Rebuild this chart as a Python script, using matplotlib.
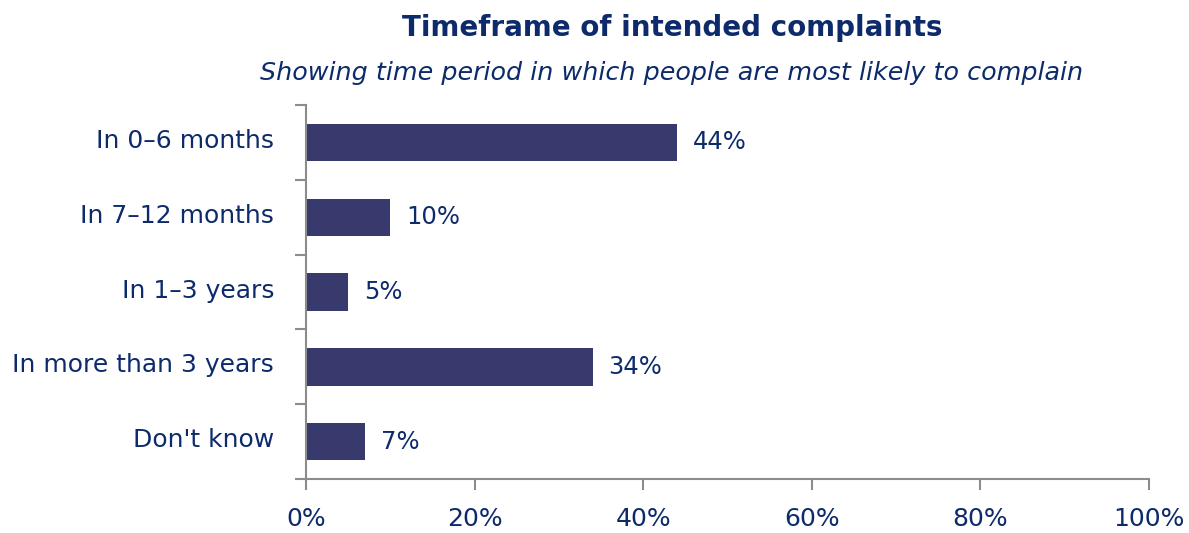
import matplotlib.pyplot as plt
import matplotlib.transforms as mtransforms
import numpy as np
from matplotlib.ticker import FixedLocator, PercentFormatter

categories = ["In 0\u20136 months", "In 7\u201312 months", "In 1\u20133 years",
              "In more than 3 years", "Don't know"]
values = [44, 10, 5, 34, 7]
xticks = [0, 20, 40, 60, 80, 100]

navy = "#0d2b6b"
bar_color = "#383a6d"
spine = "#8c8c8c"

plt.rcParams["font.family"] = ["DejaVu Sans"]

fig = plt.figure(figsize=(11.89, 5.33), dpi=100)
ax = fig.add_axes([0.2574, 0.1013, 0.7090, 0.7017])

y = np.arange(len(categories))
ax.barh(y, values, height=0.5, color=bar_color)

for yi, v in zip(y, values):
    ax.text(v + 1.9, yi, f"{v}%", va="center", ha="left", fontsize=17.5, color=navy)

ax.set_xlim(0, 100)
ax.set_ylim(len(categories) - 0.5, -0.5)
ax.set_yticks(y)
ax.set_yticklabels(categories)
ax.yaxis.set_minor_locator(FixedLocator(np.arange(-0.5, len(categories), 1)))
ax.tick_params(axis="y", which="major", length=0, pad=23, labelsize=18, labelcolor=navy)
ax.tick_params(axis="y", which="minor", length=8, color=spine, width=1.5)

# lift category labels a little, as in the original
shift = mtransforms.ScaledTranslation(0, 4 / 100, fig.dpi_scale_trans)
for lab in ax.get_yticklabels():
    lab.set_transform(lab.get_transform() + shift)

ax.set_xticks(xticks)
ax.xaxis.set_major_formatter(PercentFormatter(decimals=0))
ax.tick_params(axis="x", length=8, color=spine, width=1.5, pad=12,
               labelsize=18, labelcolor=navy)

for s in ["top", "right"]:
    ax.spines[s].set_visible(False)
for s in ["left", "bottom"]:
    ax.spines[s].set_color(spine)
    ax.spines[s].set_linewidth(1.5)

fig.text(0.565, 0.947, "Timeframe of intended complaints", ha="center", va="center",
         fontsize=20, fontweight="bold", color=navy)
fig.text(0.565, 0.863, "Showing time period in which people are most likely to complain",
         ha="center", va="center", fontsize=18.3, style="italic", color=navy)

fig.savefig("out.png", dpi=100)
